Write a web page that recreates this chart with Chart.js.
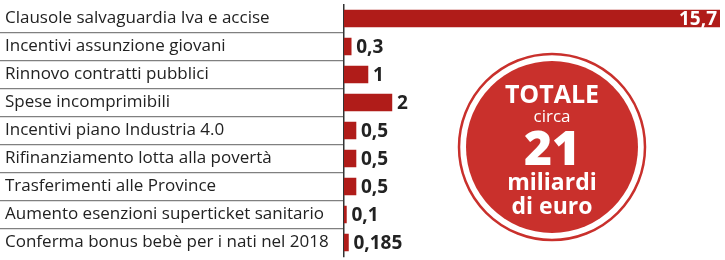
<!DOCTYPE html>
<html>
<head>
<meta charset="utf-8">
<script src="https://cdn.jsdelivr.net/npm/chart.js@4/dist/chart.umd.min.js"></script>
<style>
  body { margin: 0; background: #fff; }
</style>
</head>
<body>
<canvas id="grafico" width="725" height="260"></canvas>
<script>
const voci = [
    'Clausole salvaguardia Iva e accise',
    'Incentivi assunzione giovani',
    'Rinnovo contratti pubblici',
    'Spese incomprimibili',
    'Incentivi piano Industria 4.0',
    'Rifinanziamento lotta alla povertà',
    'Trasferimenti alle Province',
    'Aumento esenzioni superticket sanitario',
    'Conferma bonus bebè per i nati nel 2018'
];
const miliardi = [15.7, 0.3, 1, 2, 0.5, 0.5, 0.5, 0.1, 0.185];
const totale = ['TOTALE', 'circa', '21', 'miliardi', 'di euro'];

const rosso = '#b01c19';
const rossoCerchio = '#c9302c';

function virgola(v) {
    return String(v).replace('.', ',');
}

// etichette dei valori accanto alle barre
const etichette = {
    id: 'etichette',
    afterDatasetsDraw(chart) {
        const ctx = chart.ctx;
        const barre = chart.getDatasetMeta(0).data;
        ctx.save();
        ctx.textBaseline = 'middle';
        ctx.font = 'bold 19px "Open Sans"';
        barre.forEach((b, i) => {
            const testo = virgola(miliardi[i]);
            if (i === 0) {
                ctx.fillStyle = '#fff';
                ctx.textAlign = 'right';
                ctx.fillText(testo, b.x - 3, b.y + 1);
            } else {
                ctx.fillStyle = '#222';
                ctx.textAlign = 'left';
                ctx.fillText(testo, b.x + 5, b.y + 1);
            }
        });
        ctx.restore();
    }
};

// cerchio con il totale
const cerchio = {
    id: 'cerchio',
    afterDraw(chart) {
        const ctx = chart.ctx;
        const cx = 552, cy = 147;
        ctx.save();
        ctx.beginPath();
        ctx.arc(cx, cy, 93, 0, Math.PI * 2);
        ctx.strokeStyle = rossoCerchio;
        ctx.lineWidth = 2.5;
        ctx.stroke();
        ctx.beginPath();
        ctx.arc(cx, cy, 86, 0, Math.PI * 2);
        ctx.fillStyle = rossoCerchio;
        ctx.fill();
        ctx.fillStyle = '#fff';
        ctx.textAlign = 'center';
        ctx.textBaseline = 'middle';
        ctx.font = 'bold 25px "Open Sans"';
        ctx.fillText(totale[0], cx, cy - 51);
        ctx.font = '17px "Open Sans"';
        ctx.fillText(totale[1], cx, cy - 30);
        ctx.font = '800 48px "Open Sans"';
        ctx.fillText(totale[2], cx, cy + 4);
        ctx.font = 'bold 23px "Open Sans"';
        ctx.fillText(totale[3], cx, cy + 36);
        ctx.fillText(totale[4], cx, cy + 60);
        ctx.restore();
    }
};

new Chart(document.getElementById('grafico'), {
    type: 'bar',
    data: {
        labels: voci,
        datasets: [{
            data: miliardi,
            backgroundColor: rosso,
            barThickness: 17
        }]
    },
    options: {
        indexAxis: 'y',
        responsive: false,
        animation: false,
        layout: { padding: { left: 5, right: 5, top: 4.5, bottom: 3.5 } },
        plugins: {
            legend: { display: false },
            tooltip: { enabled: false }
        },
        scales: {
            x: {
                display: false,
                min: 0,
                max: 15.7
            },
            y: {
                afterFit(scale) {
                    scale.width = 339;
                    scale.paddingTop = 0;
                    scale.paddingBottom = 0;
                },
                border: { display: true, color: '#333', width: 1.5 },
                grid: {
                    drawOnChartArea: false,
                    tickLength: 346,
                    color: ctx => (ctx.index === undefined || ctx.index === 0) ? 'rgba(0,0,0,0)' : '#808080',
                    lineWidth: 1.2
                },
                ticks: {
                    crossAlign: 'far',
                    color: '#222',
                    font: { family: 'Open Sans', size: 17 }
                }
            }
        }
    },
    plugins: [etichette, cerchio]
});
</script>
</body>
</html>
